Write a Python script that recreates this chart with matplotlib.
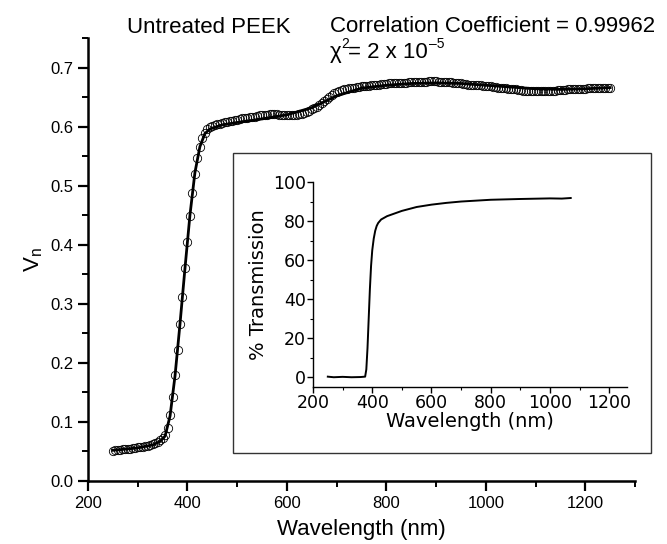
import matplotlib
matplotlib.use("Agg")
import matplotlib.pyplot as plt
from matplotlib.patches import Rectangle
from matplotlib.ticker import MultipleLocator

plt.rcParams['font.family'] = ['Liberation Sans', 'DejaVu Sans']
plt.rcParams['mathtext.fontset'] = 'custom'
plt.rcParams['mathtext.rm'] = 'Liberation Sans'
plt.rcParams['mathtext.it'] = 'Liberation Sans'

# measured V_n (open circles), sampled every 5 nm from 250 to 1250 nm
wl_meas = list(range(250, 1255, 5))
vn_meas = [0.051, 0.052, 0.053, 0.053, 0.054, 0.054, 0.055, 0.055, 0.056, 0.056,
           0.057, 0.057, 0.058, 0.059, 0.060, 0.061, 0.062, 0.064, 0.066,
           0.069, 0.073, 0.078, 0.090, 0.112, 0.142, 0.180, 0.222, 0.266, 0.312,
           0.360, 0.405, 0.448, 0.488, 0.520, 0.546, 0.566, 0.580, 0.590, 0.596,
           0.599, 0.601, 0.603, 0.604, 0.605, 0.606, 0.607, 0.608, 0.609, 0.610,
           0.611, 0.612, 0.613, 0.614, 0.614, 0.615, 0.616, 0.617, 0.617, 0.618,
           0.619, 0.619, 0.620, 0.620, 0.621, 0.621, 0.621, 0.621, 0.620, 0.620,
           0.619, 0.619, 0.619, 0.619, 0.620, 0.620, 0.621, 0.622, 0.623, 0.625,
           0.627, 0.629, 0.631, 0.634, 0.637, 0.640, 0.643, 0.647, 0.650, 0.654,
           0.657, 0.659, 0.661, 0.662, 0.663, 0.664, 0.665, 0.666, 0.666, 0.667,
           0.667, 0.668, 0.668, 0.669, 0.669, 0.670, 0.670, 0.671, 0.671, 0.672,
           0.672, 0.672, 0.673, 0.673, 0.673, 0.673, 0.674, 0.674, 0.674, 0.674,
           0.675, 0.675, 0.675, 0.675, 0.676, 0.676, 0.676, 0.676, 0.677, 0.677,
           0.677, 0.677, 0.676, 0.676, 0.676, 0.676, 0.675, 0.675, 0.674, 0.674,
           0.673, 0.673, 0.672, 0.672, 0.671, 0.671, 0.670, 0.670, 0.670, 0.670,
           0.669, 0.669, 0.668, 0.668, 0.667, 0.667, 0.666, 0.666, 0.665, 0.665,
           0.664, 0.664, 0.663, 0.663, 0.662, 0.662, 0.661, 0.661, 0.661, 0.661,
           0.660, 0.660, 0.660, 0.660, 0.660, 0.660, 0.661, 0.661, 0.661, 0.661,
           0.662, 0.662, 0.662, 0.662, 0.663, 0.663, 0.663, 0.663, 0.664, 0.664,
           0.664, 0.664, 0.665, 0.665, 0.665, 0.665, 0.666, 0.666, 0.666, 0.666,
           0.666, 0.666]

# fitted curve (solid line)
wl_fit = [250, 300, 330, 345, 355, 365, 375, 385, 395, 405, 415, 425, 435, 445,
          470, 500, 550, 600, 650, 700, 750, 800, 850, 900, 950, 1000, 1050,
          1100, 1150, 1200, 1250]
vn_fit = [0.052, 0.056, 0.061, 0.067, 0.076, 0.110, 0.178, 0.266, 0.360, 0.450,
          0.522, 0.566, 0.588, 0.596, 0.603, 0.607, 0.613, 0.620, 0.632, 0.652,
          0.665, 0.670, 0.673, 0.674, 0.673, 0.670, 0.667, 0.664, 0.663, 0.664,
          0.666]

# inset: % transmission
wl_trans = [250, 270, 300, 330, 360, 376, 380, 384, 388, 392, 396, 400, 405, 410,
            415, 420, 430, 450, 500, 550, 600, 650, 700, 800, 900, 1000, 1040, 1070]
pct_trans = [0.3, 0.0, 0.2, 0.0, 0.1, 0.3, 4, 15, 30, 45, 57, 65, 71, 75,
             77.5, 79, 80.8, 82.5, 85.2, 87.2, 88.4, 89.3, 90.0, 90.9, 91.3, 91.6, 91.5, 91.8]

W, H = 667, 544
fig = plt.figure(figsize=(W / 100, H / 100), dpi=100)

# main axes
ax = fig.add_axes([88 / W, 1 - 481 / H, 547 / W, 443 / H])
ax.plot(wl_meas, vn_meas, 'o', ms=6, mfc='none', mec='black', mew=0.6, zorder=2)
ax.plot(wl_fit, vn_fit, '-', color='black', lw=2.0, zorder=3)
ax.set_xlim(200, 1300)
ax.set_ylim(0, 0.75)
ax.xaxis.set_major_locator(MultipleLocator(200))
ax.xaxis.set_minor_locator(MultipleLocator(100))
ax.yaxis.set_minor_locator(MultipleLocator(0.05))
ax.set_yticks([0.0, 0.1, 0.2, 0.3, 0.4, 0.5, 0.6, 0.7])
ax.set_yticklabels(['0.0', '0.1', '0.2', '0.3', '0.4', '0.5', '0.6', '0.7'])
for s in ['top', 'right']:
    ax.spines[s].set_visible(False)
for s in ['left', 'bottom']:
    ax.spines[s].set_linewidth(1.8)
ax.tick_params(which='major', direction='out', length=7, width=1.6, labelsize=12)
ax.tick_params(which='minor', direction='out', length=4, width=1.4)
ax.set_xlabel('Wavelength (nm)', fontsize=16, labelpad=6)
ax.set_ylabel(r'V$_\mathregular{n}$', fontsize=16, labelpad=4)

# annotations above the plot
fig.text(127 / W, 1 - 33 / H, 'Untreated PEEK', fontsize=16, va='baseline')
fig.text(330 / W, 1 - 32 / H, 'Correlation Coefficient = 0.99962', fontsize=16, va='baseline')
fig.text(330 / W, 1 - 58 / H, 'χ', fontsize=16, va='baseline')
fig.text(341 / W, 1 - 48 / H, '2', fontsize=10, va='baseline')
rest = fig.text(348 / W, 1 - 58 / H, '= 2 x 10', fontsize=16, va='baseline')
fig.canvas.draw()
bb = rest.get_window_extent()
fig.text((bb.x1 + 1) / W, 1 - 48 / H, '–5', fontsize=10, va='baseline')

# inset frame
fig.patches.append(Rectangle((233 / W, 1 - 453 / H), 418 / W, 300 / H,
                             transform=fig.transFigure, fill=True, facecolor='white',
                             edgecolor='#333333', lw=1.0, zorder=1))

ins = fig.add_axes([313 / W, 1 - 387 / H, 314 / W, 205 / H])
ins.set_zorder(3)
ins.patch.set_alpha(0)
ins.plot(wl_trans, pct_trans, '-', color='black', lw=1.4)
ins.set_xlim(200, 1260)
ins.set_ylim(-5, 100)
ins.xaxis.set_major_locator(MultipleLocator(200))
ins.xaxis.set_minor_locator(MultipleLocator(100))
ins.yaxis.set_major_locator(MultipleLocator(20))
ins.yaxis.set_minor_locator(MultipleLocator(10))
for s in ['top', 'right']:
    ins.spines[s].set_visible(False)
for s in ['left', 'bottom']:
    ins.spines[s].set_linewidth(1.0)
ins.tick_params(which='major', direction='out', length=4, width=1.0, labelsize=12.5, pad=1)
ins.tick_params(which='minor', direction='out', length=2.5, width=0.8)
for lab in ins.get_xticklabels() + ins.get_yticklabels():
    lab.set_fontfamily('DejaVu Sans')
ins.set_xlabel('Wavelength (nm)', fontsize=14, family='DejaVu Sans', labelpad=0)
ins.set_ylabel('% Transmission', fontsize=14, family='DejaVu Sans', labelpad=4)

fig.savefig('out.png', dpi=100)
